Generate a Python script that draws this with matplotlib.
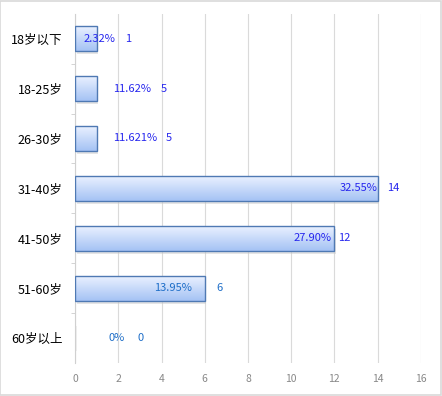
import matplotlib.pyplot as plt
import numpy as np
from matplotlib.patches import Rectangle
from matplotlib.colors import LinearSegmentedColormap

plt.rcParams['font.family'] = ['Noto Sans CJK SC', 'DejaVu Sans']

ages = ["18岁以下", "18-25岁", "26-30岁", "31-40岁", "41-50岁", "51-60岁", "60岁以上"]
bar_len = [1, 1, 1, 14, 12, 6, 0]      # bar lengths as drawn in the picture
counts = [1, 5, 5, 14, 12, 6, 0]       # count labels
pct_labels = ["2.32%", "11.62%", "11.621%", "32.55%", "27.90%", "13.95%", "0%"]
# where the labels sit (data units)
pct_x = [1.85, 3.52, 3.80, 14.0, 11.88, 5.42, 2.31]
cnt_x = [2.31, 3.98, 4.20, 14.44, 12.17, 6.53, 2.87]
lab_color = ["#2626ee"] * 5 + ["#1e6ec8"] * 2

fig = plt.figure(figsize=(4.42, 3.96), dpi=100)
fig.add_artist(Rectangle((0.001, 0.002), 0.997, 0.996, transform=fig.transFigure,
                         fill=False, edgecolor="#d9d9d9", lw=1.2))
ax = fig.add_axes([0.170, 0.0833, 0.782, 0.882])

y = np.arange(len(ages))
h = 0.5
grad = np.linspace(0, 1, 100).reshape(-1, 1)
cmap = LinearSegmentedColormap.from_list("g", ["#eaf1ff", "#a4c2f4"])

for i, c in enumerate(bar_len):
    if c > 0:
        # shadow
        ax.add_patch(Rectangle((0.08, y[i] - h / 2 + 0.06), c, h, facecolor="#cccccc",
                               edgecolor="none", alpha=0.5, zorder=2))
        im = ax.imshow(grad, cmap=cmap, aspect="auto", extent=(0, c, y[i] + h / 2, y[i] - h / 2),
                       zorder=3)
        bar = ax.barh(y[i], c, height=h, facecolor="none", edgecolor="#4f79b3", lw=1, zorder=4)
        im.set_clip_path(bar.patches[0])
    else:
        ax.add_patch(Rectangle((0, y[i] - h / 2), 0.08, h, facecolor="#eeeeee",
                               edgecolor="none", zorder=2))
    ax.text(pct_x[i], y[i], pct_labels[i], ha="right", va="center", color=lab_color[i],
            fontsize=8, zorder=5)
    ax.text(cnt_x[i], y[i], str(counts[i]), ha="left", va="center", color=lab_color[i],
            fontsize=8, zorder=5)

ax.set_xlim(0, 16)
ax.set_ylim(len(ages) - 0.5, -0.5)
ax.set_xticks(range(0, 17, 2))
ax.set_yticks(y)
ax.set_yticklabels(ages, fontsize=9)
ax.set_yticks(np.arange(0.5, len(ages) - 0.5, 1), minor=True)
ax.tick_params(axis="y", which="major", length=0, pad=9)
ax.tick_params(axis="y", which="minor", length=3, color="#cccccc")
ax.tick_params(axis="x", length=0, labelsize=7.5, labelcolor="#888888", pad=8)
ax.xaxis.grid(True, color="#dadada", lw=0.8)
ax.set_axisbelow(True)
for s in ["top", "right", "bottom"]:
    ax.spines[s].set_visible(False)
ax.spines["left"].set_color("#d0d0d0")

fig.savefig("out.png", dpi=100)
